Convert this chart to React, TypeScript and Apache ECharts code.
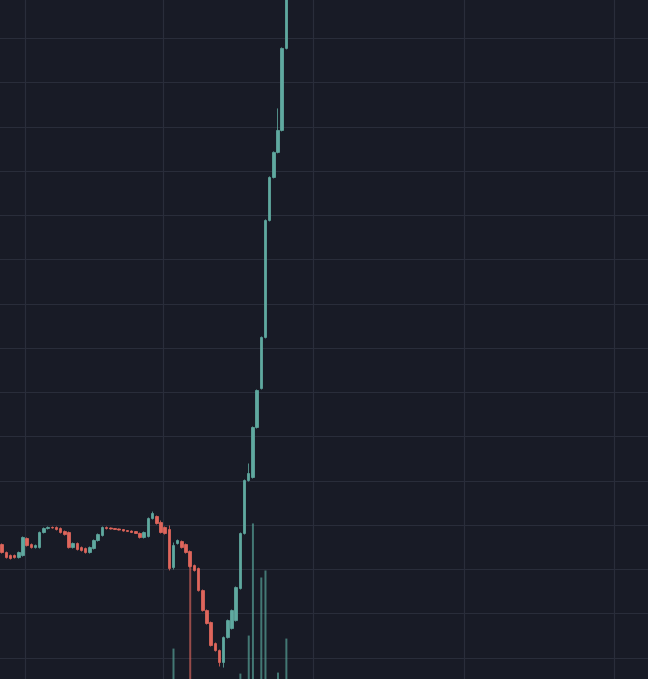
import React, { useEffect, useRef } from 'react'
import * as echarts from 'echarts'

// one slot per bar on the time axis (only the first 69 are filled)
const categories: string[] = Array.from({ length: 155 }, (_, i) => String(i))

// [open, close, low, high]
const candles: number[][] = [
    [112.79, 111.89, 111.77, 112.91],
    [111.89, 111.32, 111.21, 112.00],
    [111.55, 111.21, 111.10, 111.66],
    [111.55, 111.32, 111.21, 111.66],
    [111.32, 111.89, 111.21, 112.00],
    [111.55, 113.59, 111.43, 113.70],
    [113.47, 112.68, 112.57, 113.59],
    [112.79, 112.45, 112.34, 112.91],
    [112.45, 112.68, 112.34, 112.79],
    [112.45, 114.15, 112.34, 114.26],
    [114.15, 114.60, 114.04, 114.72],
    [114.60, 114.72, 114.49, 114.83],
    [114.72, 114.66, 114.60, 114.83],
    [114.72, 114.49, 114.38, 114.83],
    [114.60, 114.15, 114.04, 114.72],
    [114.26, 113.92, 113.81, 114.38],
    [114.15, 112.45, 112.34, 114.26],
    [112.45, 112.91, 112.34, 113.02],
    [112.91, 112.23, 112.12, 113.02],
    [112.45, 112.12, 112.00, 112.57],
    [112.34, 111.89, 111.77, 112.45],
    [111.89, 112.45, 111.77, 112.57],
    [112.34, 113.25, 112.23, 113.36],
    [113.25, 113.92, 113.13, 114.04],
    [113.81, 114.72, 113.70, 114.83],
    [114.72, 114.60, 114.49, 114.83],
    [114.66, 114.55, 114.49, 114.72],
    [114.60, 114.49, 114.43, 114.66],
    [114.55, 114.43, 114.38, 114.60],
    [114.49, 114.32, 114.26, 114.55],
    [114.38, 114.26, 114.21, 114.43],
    [114.32, 114.15, 114.09, 114.38],
    [114.26, 114.04, 113.98, 114.32],
    [114.04, 113.59, 113.47, 114.15],
    [113.59, 114.15, 113.47, 114.26],
    [113.70, 115.73, 113.59, 115.85],
    [115.73, 116.30, 115.62, 116.52],
    [115.96, 115.17, 115.05, 116.07],
    [115.28, 114.15, 114.04, 115.51],
    [114.72, 114.04, 113.92, 114.83],
    [114.49, 110.08, 109.86, 114.94],
    [110.19, 112.68, 109.97, 113.02],
    [112.91, 113.25, 112.79, 113.36],
    [113.13, 112.45, 112.34, 113.25],
    [112.79, 111.89, 111.77, 112.91],
    [112.00, 110.31, 110.19, 112.12],
    [110.42, 109.86, 109.74, 110.53],
    [110.08, 107.59, 107.48, 110.19],
    [107.59, 105.33, 105.22, 107.71],
    [105.33, 103.87, 103.75, 105.45],
    [103.98, 101.38, 101.27, 104.09],
    [101.60, 100.81, 100.70, 101.72],
    [100.81, 99.46, 99.01, 100.93],
    [99.46, 102.28, 98.89, 102.40],
    [102.28, 104.20, 102.17, 104.32],
    [103.30, 105.33, 103.19, 105.45],
    [104.20, 107.93, 104.09, 108.05],
    [107.82, 114.04, 107.71, 114.15],
    [114.04, 120.03, 113.92, 120.14],
    [120.03, 120.82, 119.91, 121.95],
    [120.37, 126.02, 120.25, 126.13],
    [126.02, 130.20, 125.90, 130.31],
    [130.42, 136.19, 130.31, 136.30],
    [136.19, 149.41, 136.08, 149.53],
    [149.41, 154.27, 149.30, 154.39],
    [154.27, 157.10, 154.16, 157.21],
    [157.10, 159.58, 156.99, 162.07],
    [159.58, 168.85, 159.47, 168.96],
    [168.85, 175.41, 168.74, 175.63],
]

const volumes: number[] = [
    0, 0, 0, 0, 0, 0, 0, 0, 0, 0,
    0, 0, 0, 0, 0, 0, 0, 0, 0, 0,
    0, 0, 0, 0, 0, 0, 0, 0, 0, 0,
    0, 0, 0, 0, 0, 0, 0, 0, 0, 0,
    0, 31, 0, 0, 0, 114, 0, 0, 0, 0,
    0, 0, 0, 0, 0, 0, 0, 6, 0, 44,
    156, 0, 102, 109, 0, 0, 7, 0, 41,
]

// price scale and where the vertical time lines sit
const priceMin = 95
const priceMax = 175
const priceStep = 5
const volumeMax = 200
const timeLines = [6, 39, 75, 111, 147]

const UP = '#5fa9a0'
const DOWN = '#df665c'
const BG = '#181b26'
const GRID = '#292d3a'

// the price pane is a bit taller than the window, so the div overhangs top and bottom
const OVER_TOP = 6.4
const OVER_BOTTOM = 22.4

const App: React.FC = () => {
    const chartRef = useRef<HTMLDivElement | null>(null)

    useEffect(() => {
        if (!chartRef.current) return
        const chart = echarts.init(chartRef.current, null, { renderer: 'svg' })

        const hidden = { show: false }

        chart.setOption({
            animation: false,
            backgroundColor: BG,
            grid: [
                { left: 0, right: 0, top: 0, bottom: 0 },
                { left: 0, right: 0, top: 479 + OVER_TOP, bottom: OVER_BOTTOM },
            ],
            xAxis: [
                {
                    type: 'category',
                    data: categories,
                    gridIndex: 0,
                    boundaryGap: true,
                    axisLine: hidden,
                    axisTick: hidden,
                    axisLabel: hidden,
                    splitLine: {
                        show: true,
                        interval: (index: number) => timeLines.includes(index),
                        lineStyle: { color: GRID, width: 1.2 },
                    },
                },
                {
                    type: 'category',
                    data: categories,
                    gridIndex: 1,
                    boundaryGap: true,
                    axisLine: hidden,
                    axisTick: hidden,
                    axisLabel: hidden,
                    splitLine: hidden,
                },
            ],
            yAxis: [
                {
                    type: 'value',
                    gridIndex: 0,
                    min: priceMin,
                    max: priceMax,
                    interval: priceStep,
                    axisLine: hidden,
                    axisTick: hidden,
                    axisLabel: hidden,
                    splitLine: { show: true, lineStyle: { color: GRID, width: 1.2 } },
                },
                {
                    type: 'value',
                    gridIndex: 1,
                    min: 0,
                    max: volumeMax,
                    axisLine: hidden,
                    axisTick: hidden,
                    axisLabel: hidden,
                    splitLine: hidden,
                },
            ],
            series: [
                {
                    type: 'bar',
                    xAxisIndex: 1,
                    yAxisIndex: 1,
                    barWidth: 2,
                    data: volumes.map((v, i) => ({
                        value: v,
                        itemStyle: {
                            color: candles[i][1] >= candles[i][0]
                                ? 'rgba(85, 160, 150, 0.7)'
                                : 'rgba(205, 95, 88, 0.7)',
                        },
                    })),
                },
                {
                    type: 'candlestick',
                    xAxisIndex: 0,
                    yAxisIndex: 0,
                    barWidth: 3,
                    data: categories.map((_, i) => candles[i] ?? '-'),
                    itemStyle: {
                        color: UP,
                        color0: DOWN,
                        borderColor: UP,
                        borderColor0: DOWN,
                        borderWidth: 0.8,
                    },
                },
            ],
        })

        return () => {
            chart.dispose()
        }
    }, [])

    return (
        <div
            ref={chartRef}
            style={{
                position: 'fixed',
                left: 0,
                top: -OVER_TOP,
                width: 648,
                height: 679 + OVER_TOP + OVER_BOTTOM,
                background: BG,
            }}
        />
    )
}

export default App
